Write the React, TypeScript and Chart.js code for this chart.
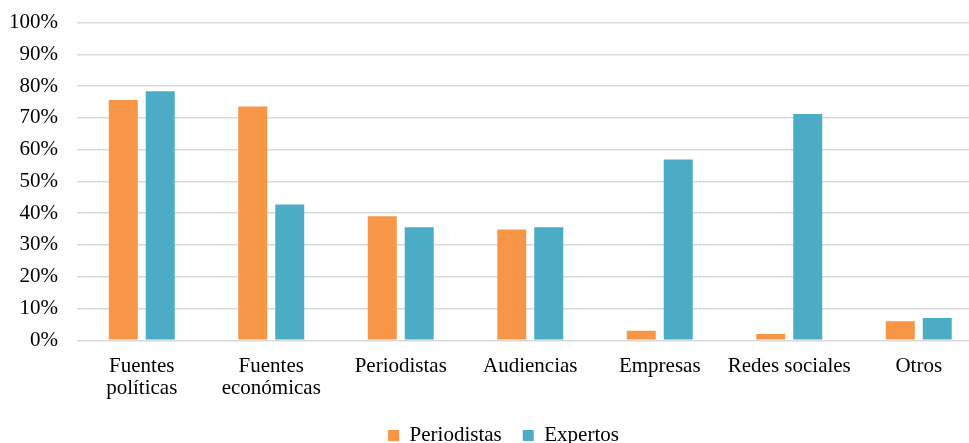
import React, { useEffect, useRef } from "react";
import { Chart, registerables } from "chart.js";

Chart.register(...registerables);

const categories: (string | string[])[] = [
  ["Fuentes", "políticas"],
  ["Fuentes", "económicas"],
  "Periodistas",
  "Audiencias",
  "Empresas",
  "Redes sociales",
  "Otros",
];
const periodistas = [75.6, 73.6, 39.0, 34.9, 3.0, 2.0, 6.0];
const expertos = [78.4, 42.7, 35.6, 35.6, 56.9, 71.2, 7.0];
const seriesNames = ["Periodistas", "Expertos"];
const colors = ["#F79646", "#4BACC6"];

const FONT = "'Liberation Serif', 'Times New Roman', serif";

export default function App() {
  const ref = useRef<HTMLCanvasElement | null>(null);

  useEffect(() => {
    if (!ref.current) return;
    const chart = new Chart(ref.current, {
      type: "bar",
      data: {
        labels: categories,
        datasets: [
          {
            label: seriesNames[0],
            data: periodistas,
            backgroundColor: colors[0],
            categoryPercentage: 0.571,
            barPercentage: 0.784,
          },
          {
            label: seriesNames[1],
            data: expertos,
            backgroundColor: colors[1],
            categoryPercentage: 0.571,
            barPercentage: 0.784,
          },
        ],
      },
      options: {
        responsive: false,
        animation: false,
        layout: { padding: { top: 22.5, left: 0, right: 0, bottom: 0 } },
        plugins: {
          legend: {
            position: "bottom",
            labels: {
              font: { family: FONT, size: 21 },
              color: "#000",
              boxWidth: 11,
              boxHeight: 11,
              padding: 21,
            },
          },
          tooltip: { enabled: false },
        },
        scales: {
          x: {
            grid: { display: false, drawTicks: false },
            border: { display: false },
            ticks: {
              font: { family: FONT, size: 21, lineHeight: 1.05 },
              color: "#000",
              padding: 15,
              maxRotation: 0,
              autoSkip: false,
            },
            afterFit: (s: any) => {
              s.height = 63.7;
            },
          },
          y: {
            min: 0,
            max: 100,
            grid: { color: "#d9d9d9", lineWidth: 1.5, drawTicks: false },
            border: { display: false },
            ticks: {
              stepSize: 10,
              font: { family: FONT, size: 21 },
              color: "#000",
              padding: 19,
              callback: (v: any) => v + "%",
            },
            afterFit: (s: any) => {
              s.width = 77;
              s.paddingTop = 0;
              s.paddingBottom = 0;
            },
          },
          yRightMargin: {
            type: "linear",
            position: "right",
            min: 0,
            max: 100,
            grid: { display: false, drawTicks: false },
            border: { display: false },
            ticks: { display: false },
            afterFit: (s: any) => {
              s.width = 23.5;
              s.paddingTop = 0;
              s.paddingBottom = 0;
            },
          },
        },
      },
    });
    return () => chart.destroy();
  }, []);

  return (
    <div
      style={{
        position: "fixed",
        left: 0,
        top: 0,
        width: 969,
        height: 443,
        overflow: "hidden",
        background: "#fff",
      }}
    >
      <canvas ref={ref} width={1007} height={456} style={{ display: "block" }} />
    </div>
  );
}
